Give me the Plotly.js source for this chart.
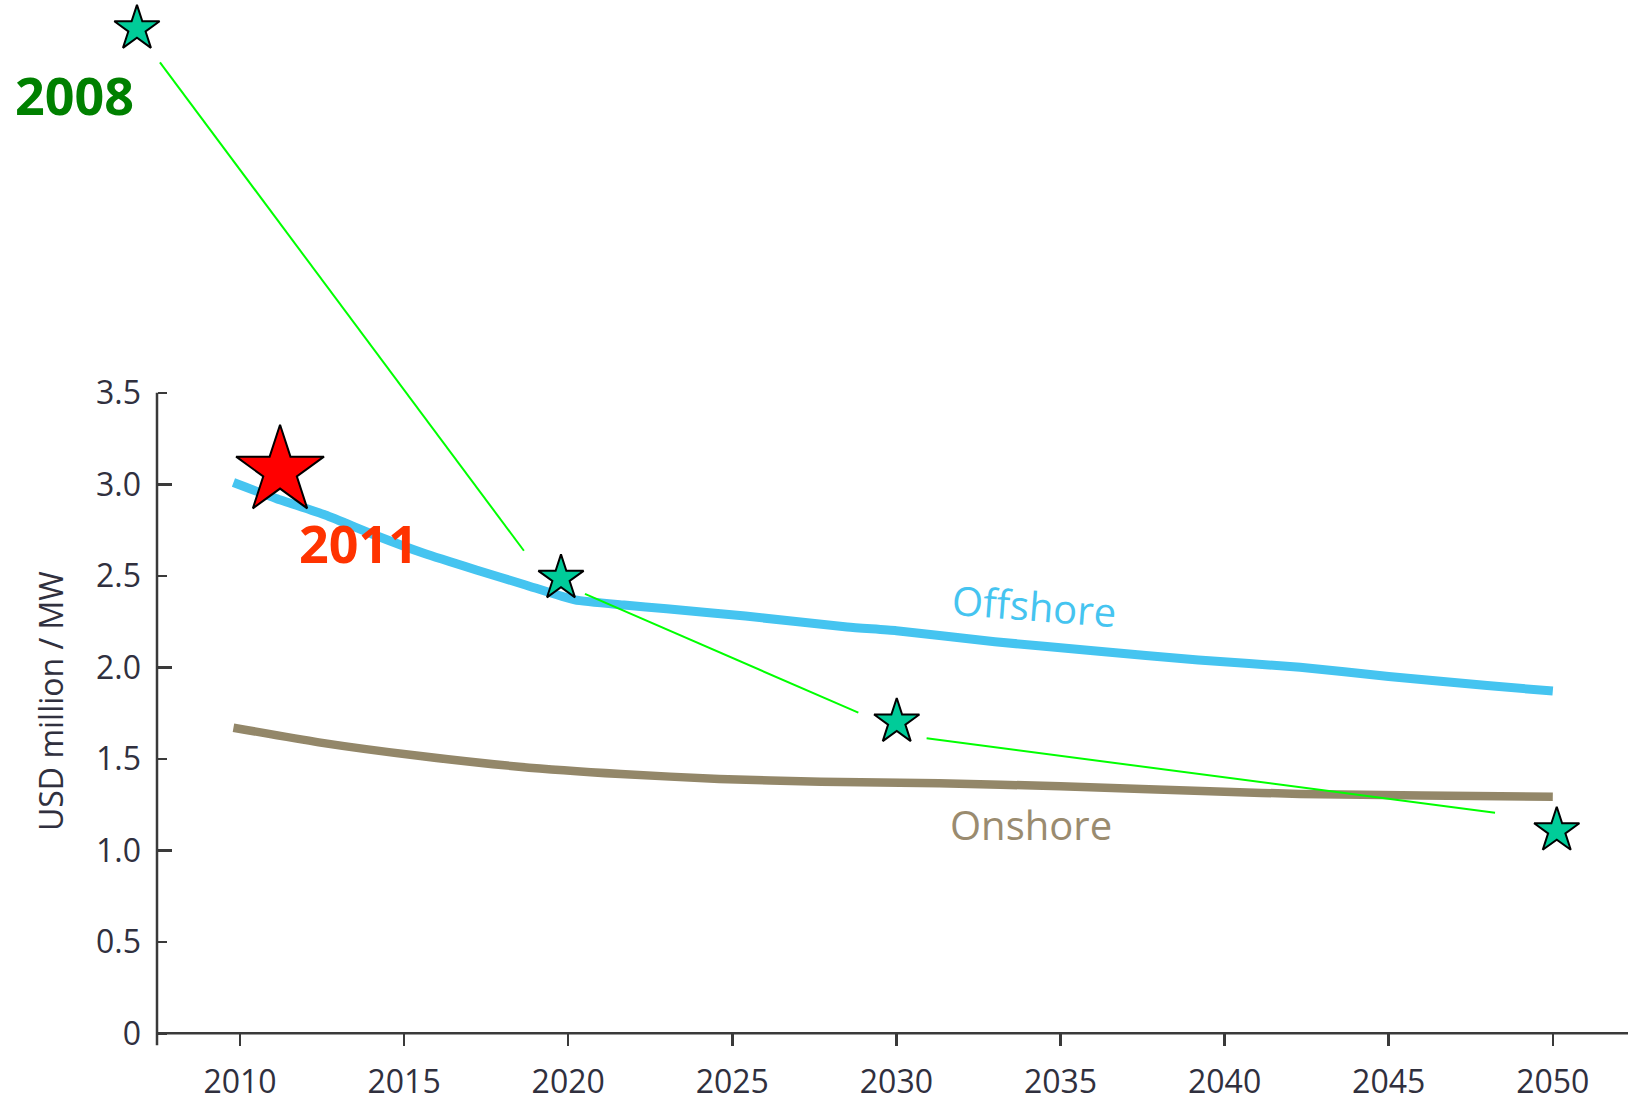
<!DOCTYPE html>
<html><head><meta charset="utf-8">
<script src="https://cdn.plot.ly/plotly-3.0.1.min.js"></script>
<style>html,body{margin:0;padding:0;background:#fff}#chart{width:1628px;height:1102px}</style>
</head><body><div id="chart"></div>
<script>
// ---- data ----
const offshoreYears  = [2009.8, 2011.1, 2012.6, 2014.1, 2015.6, 2017.2, 2018.7, 2020.2, 2021.7, 2023.0, 2025.4, 2028.5, 2030, 2033, 2036, 2039.2, 2042.3, 2045, 2048, 2050];
const offshoreValues = [3.01, 2.923, 2.832, 2.723, 2.623, 2.532, 2.45, 2.368, 2.34, 2.32, 2.28, 2.22, 2.20, 2.14, 2.09, 2.04, 2.00, 1.95, 1.90, 1.87];
const onshoreYears   = [2009.8, 2012.4, 2015.5, 2018.5, 2021.6, 2024.6, 2027.7, 2031.3, 2035, 2040, 2042.3, 2046, 2050];
const onshoreValues  = [1.67, 1.59, 1.515, 1.457, 1.417, 1.39, 1.375, 1.366, 1.35, 1.32, 1.308, 1.30, 1.293];
const starYears  = [2006.86, 2019.78, 2030.01, 2050.12];
const starValues = [5.49, 2.487, 1.702, 1.108];
const redStarYears  = [2011.22];
const redStarValues = [3.073];
const connStartYears  = [2007.56, 2020.51, 2030.92];
const connStartValues = [5.306, 2.401, 1.612];
const connEndYears    = [2018.65, 2028.84, 2048.24];
const connEndValues   = [2.637, 1.752, 1.205];
const xTickVals = [2010, 2015, 2020, 2025, 2030, 2035, 2040, 2045, 2050];
const xTickText = ['2010','2015','2020','2025','2030','2035','2040','2045','2050'];
const yTickVals = [0, 0.5, 1, 1.5, 2, 2.5, 3, 3.5];
const yTickText = ['0','0.5','1.0','1.5','2.0','2.5','3.0','3.5'];
const yMajorTicks = [1, 2, 3];
const labelOffshore = 'Offshore', labelOnshore = 'Onshore';
const label2008 = '2008', label2011 = '2011';
const yTitle = 'USD million / MW';

// ---- layout constants ----
const W = 1628, H = 1102;
const xRange = [2002.687, 2052.291];
const yRange = [-0.3754, 5.6465];
const yAxisPos = 157 / W;
const xAxisPos = (0 - yRange[0]) / (yRange[1] - yRange[0]);
const axisColor = '#3a3a3a';
const textColor = '#30303e';

const connX = [], connY = [];
connStartYears.forEach((v, i) => {
  connX.push(v, connEndYears[i], null);
  connY.push(connStartValues[i], connEndValues[i], null);
});

const traces = [
  {x: onshoreYears, y: onshoreValues, mode: 'lines', line: {color: '#938769', width: 8.5, shape: 'spline', smoothing: 0.6}, hoverinfo: 'skip'},
  {x: offshoreYears, y: offshoreValues, mode: 'lines', line: {color: '#45c4f0', width: 9, shape: 'spline', smoothing: 0.5}, hoverinfo: 'skip'},
  {x: connX, y: connY, mode: 'lines', line: {color: '#00ff00', width: 2}, hoverinfo: 'skip'},
  {x: starYears, y: starValues, mode: 'markers', marker: {symbol: 'star', size: 34, color: '#00cc99', line: {color: '#000', width: 2}}, hoverinfo: 'skip'},
  {x: redStarYears, y: redStarValues, mode: 'markers', marker: {symbol: 'star', size: 66, color: '#ff0000', line: {color: '#000', width: 2}}, hoverinfo: 'skip'},
  {x: [xTickVals[0]], y: [0], yaxis: 'y2', mode: 'markers', marker: {opacity: 0}, hoverinfo: 'skip'}
];

const tickFont = {family: 'Open Sans', size: 32, color: textColor};
const layout = {
  width: W, height: H,
  margin: {l: 0, r: 0, t: 0, b: 0},
  paper_bgcolor: '#fff', plot_bgcolor: '#fff',
  showlegend: false,
  font: {family: 'Open Sans'},
  xaxis: {
    range: xRange, domain: [0, 1], anchor: 'free', position: xAxisPos,
    showgrid: false, zeroline: false, showline: false,
    tickmode: 'array', tickvals: xTickVals, ticktext: xTickText,
    ticks: 'outside', ticklen: 12, tickwidth: 2.5, tickcolor: axisColor,
    tickfont: tickFont, ticklabelstandoff: 8, fixedrange: true
  },
  yaxis: {
    range: yRange, domain: [0, 1], anchor: 'free', position: yAxisPos,
    showgrid: false, zeroline: false, showline: false,
    tickmode: 'array', tickvals: yTickVals, ticktext: yTickText,
    ticks: 'inside', ticklen: 9, tickwidth: 2.5, tickcolor: axisColor,
    tickfont: tickFont, ticklabelstandoff: 16, fixedrange: true
  },
  yaxis2: {
    range: yRange, overlaying: 'y', anchor: 'free', position: yAxisPos, side: 'left',
    showgrid: false, zeroline: false, showline: false, showticklabels: false,
    tickmode: 'array', tickvals: yMajorTicks,
    ticks: 'inside', ticklen: 14, tickwidth: 2.5, tickcolor: axisColor, fixedrange: true
  },
  shapes: [
    {type: 'line', xref: 'paper', yref: 'y', x0: yAxisPos, x1: 1, y0: 0, y1: 0, line: {color: axisColor, width: 2.5}},
    {type: 'line', xref: 'paper', yref: 'y', x0: yAxisPos, x1: yAxisPos, y0: -12 / 183, y1: yTickVals[yTickVals.length - 1], line: {color: axisColor, width: 2.5}}
  ],
  annotations: [
    {text: yTitle, xref: 'paper', yref: 'paper', x: 50 / W, y: 1 - 701 / H, textangle: -90, showarrow: false,
     xanchor: 'center', yanchor: 'middle', font: {family: 'Open Sans', size: 32, color: textColor}},
    {text: labelOffshore, xref: 'x', yref: 'y', x: 2034.2, y: 2.34, textangle: 4.4, showarrow: false,
     xanchor: 'center', yanchor: 'middle', font: {family: 'Open Sans', size: 40, color: '#45c4f0'}},
    {text: labelOnshore, xref: 'x', yref: 'y', x: 2034.1, y: 1.14, showarrow: false,
     xanchor: 'center', yanchor: 'middle', font: {family: 'Open Sans', size: 40, color: '#9a8b6f'}},
    {text: '<b>' + label2008 + '</b>', xref: 'x', yref: 'y', x: 2004.96, y: 5.13, showarrow: false,
     xanchor: 'center', yanchor: 'middle', font: {family: 'Open Sans', size: 52, color: '#008000'}},
    {text: '<b>' + label2011 + '</b>', xref: 'x', yref: 'y', x: 2013.60, y: 2.68, showarrow: false,
     xanchor: 'center', yanchor: 'middle', font: {family: 'Open Sans', size: 52, color: '#ff3300'}}
  ]
};

Plotly.newPlot('chart', traces, layout, {staticPlot: true, displayModeBar: false});
</script>
</body></html>
